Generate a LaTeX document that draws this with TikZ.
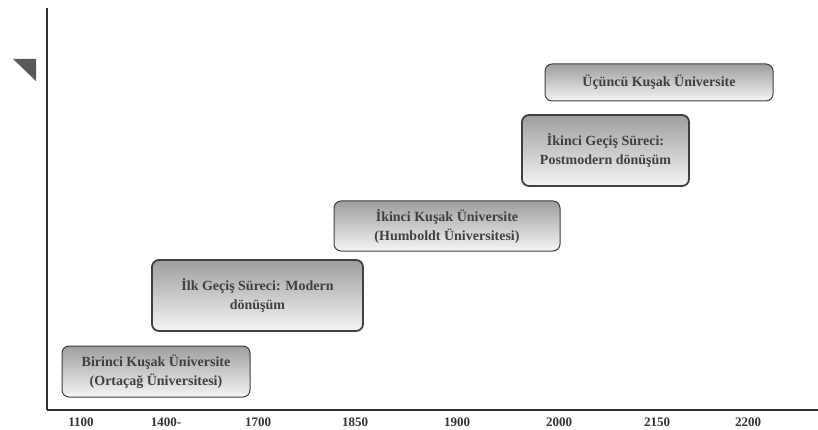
\documentclass[tikz,border=0pt]{standalone}
\usepackage{fontspec}
\setmainfont{Liberation Serif}
\begin{document}
\begin{tikzpicture}[x=1pt,y=-1pt,
  era/.style={draw=black!75, line width=1pt, rounded corners=7pt, top color=black!38, bottom color=black!4,
     font=\bfseries\fontsize{14}{19}\selectfont, text=black!75, align=center, inner sep=0pt},
  trans/.style={era, line width=1.8pt},
  yr/.style={font=\bfseries\fontsize{13}{14}\selectfont, text=black!80, anchor=center}]
\useasboundingbox (0,0) rectangle (818,430);
\coordinate (vtop) at (47,8);
\coordinate (orig) at (47,410);
\coordinate (hend) at (818,410);
\draw[black!80, line width=2pt] (vtop) -- (orig);
\draw[black!80, line width=2.6pt] (orig) -- (hend);
\fill[black!65] (13,59) -- (36,59) -- (36,81) -- cycle;
\node[era, minimum width=188pt, minimum height=51pt] (b1) at (156,371.5) {Birinci Kuşak Üniversite\\(Ortaçağ Üniversitesi)};
\node[trans, minimum width=211pt, minimum height=71pt] (b2) at (257.5,295.5) {İlk Geçiş Süreci: Modern\\dönüşüm};
\node[era, minimum width=226pt, minimum height=50pt] (b3) at (447,226) {İkinci Kuşak Üniversite\\(Humboldt Üniversitesi)};
\node[trans, minimum width=167pt, minimum height=71pt] (b4) at (605.5,150.5) {İkinci Geçiş Süreci:\\Postmodern dönüşüm};
\node[era, minimum width=228pt, minimum height=37pt] (b5) at (659,82.5) {Üçüncü Kuşak Üniversite};
\node[yr] (y1) at (81,422) {1100};
\node[yr] (y2) at (166,422) {1400-};
\node[yr] (y3) at (258,422) {1700};
\node[yr] (y4) at (355,422) {1850};
\node[yr] (y5) at (457,422) {1900};
\node[yr] (y6) at (559,422) {2000};
\node[yr] (y7) at (657,422) {2150};
\node[yr] (y8) at (748,422) {2200};
\end{tikzpicture}
\end{document}
